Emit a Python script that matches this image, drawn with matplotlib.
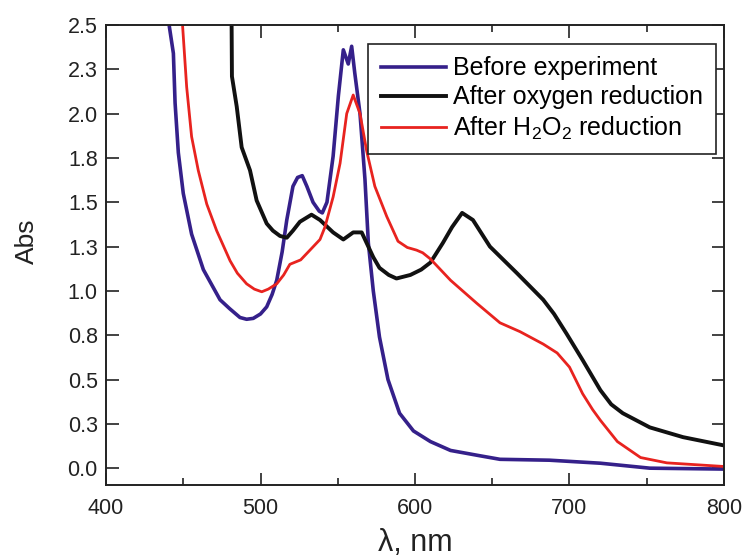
import numpy as np
import matplotlib.pyplot as plt
from matplotlib.ticker import MultipleLocator

plt.rcParams['font.family'] = ['Liberation Sans', 'DejaVu Sans']
plt.rcParams['mathtext.fontset'] = 'custom'
plt.rcParams['mathtext.rm'] = 'Liberation Sans'

# datos (lambda en nm, absorbancia)
wl_before = [440, 441, 443.6, 444.7, 446.8, 450, 455.4, 463, 473.8, 480, 486.7, 491, 495.3,
             500, 504, 507.5, 510.5, 514, 517, 521, 524, 527, 530, 534, 538, 540, 543, 547,
             550.4, 553.6, 556.8, 559, 561, 564.4, 567.6, 569.8, 573, 577, 582.5, 590, 599,
             610, 623, 642, 655, 687, 720, 752, 799]
abs_before = [2.62, 2.49, 2.34, 2.06, 1.78, 1.55, 1.32, 1.12, 0.95, 0.90, 0.85, 0.84, 0.845,
              0.87, 0.91, 0.98, 1.06, 1.22, 1.40, 1.59, 1.64, 1.65, 1.59, 1.50, 1.45, 1.44,
              1.50, 1.76, 2.10, 2.36, 2.28, 2.38, 2.23, 2.00, 1.63, 1.27, 1.00, 0.74, 0.50,
              0.31, 0.21, 0.15, 0.10, 0.07, 0.05, 0.045, 0.028, 0.0, -0.005]

wl_oxygen = [481, 481.3, 481.5, 484.6, 487.8, 493.2, 497.5, 504, 508, 512.6, 517, 521, 525.5,
             533, 538.5, 547, 553.6, 560, 565.5, 568.7, 573, 577, 583, 588, 597, 604, 610,
             618, 624, 630.5, 637.5, 648.5, 666, 683, 690, 698, 708.5, 720, 727, 734.5, 752,
             773.5, 799]
abs_oxygen = [2.62, 2.49, 2.21, 2.04, 1.81, 1.68, 1.51, 1.38, 1.34, 1.31, 1.30, 1.34, 1.39,
              1.43, 1.40, 1.33, 1.29, 1.33, 1.33, 1.27, 1.19, 1.13, 1.09, 1.07, 1.09, 1.12,
              1.16, 1.27, 1.36, 1.44, 1.40, 1.25, 1.10, 0.95, 0.87, 0.76, 0.61, 0.44, 0.36,
              0.31, 0.23, 0.175, 0.13]

wl_h2o2 = [449, 449.6, 452.2, 455.4, 459.7, 465.2, 471.6, 480.3, 485, 491, 496, 500.8, 505,
           510.5, 515, 519, 526, 532, 538.5, 541.7, 547, 551.5, 555.8, 560, 564.4, 568.7, 574,
           581.7, 589, 595, 601, 605, 610, 623, 640, 655, 668, 683, 692, 700, 708.5, 715, 720,
           731, 746, 763, 799]
abs_h2o2 = [2.62, 2.49, 2.15, 1.87, 1.68, 1.49, 1.34, 1.17, 1.10, 1.04, 1.01, 0.995, 1.01,
            1.04, 1.09, 1.15, 1.175, 1.23, 1.29, 1.36, 1.53, 1.72, 2.00, 2.105, 2.00, 1.79,
            1.59, 1.42, 1.28, 1.245, 1.23, 1.215, 1.18, 1.06, 0.93, 0.82, 0.77, 0.70, 0.65,
            0.57, 0.42, 0.33, 0.27, 0.15, 0.06, 0.03, 0.01]

yticks = [0.0, 0.25, 0.5, 0.75, 1.0, 1.25, 1.5, 1.75, 2.0, 2.25, 2.5]
ytick_labels = ['0.0', '0.3', '0.5', '0.8', '1.0', '1.3', '1.5', '1.8', '2.0', '2.3', '2.5']

fig = plt.figure(figsize=(7.43, 5.58), dpi=100)
ax = fig.add_axes([0.1427, 0.1308, 0.8317, 0.8244])

ax.plot(wl_before, abs_before, color='#35208a', lw=2.6, label='Before experiment')
ax.plot(wl_oxygen, abs_oxygen, color='#111111', lw=2.8, label='After oxygen reduction')
ax.plot(wl_h2o2, abs_h2o2, color='#e8231f', lw=2.0, label='After H$_2$O$_2$ reduction')

ax.set_xlim(400, 800)
ax.set_ylim(-0.095, 2.5)
ax.set_xticks([400, 500, 600, 700, 800])
ax.xaxis.set_minor_locator(MultipleLocator(50))
ax.set_yticks(yticks)
ax.set_yticklabels(ytick_labels)

ax.tick_params(which='both', direction='in', top=True, right=True, labelsize=15.5,
               colors='#222222', width=1.2)
ax.tick_params(which='major', length=9)
ax.tick_params(which='minor', length=5)
ax.tick_params(axis='x', pad=9)
ax.tick_params(axis='y', pad=6)
for s in ax.spines.values():
    s.set_linewidth(1.4)
    s.set_color('#222222')

ax.set_xlabel('λ, nm', fontsize=22, color='#222222', labelpad=7)
ax.set_ylabel('Abs', fontsize=19, color='#222222')
ax.yaxis.set_label_coords(-0.108, 0.53)

leg = ax.legend(loc='upper right', bbox_to_anchor=(0.987, 0.959), borderaxespad=0,
                fancybox=False, edgecolor='#222222', framealpha=1, fontsize=18,
                handlelength=2.6, handletextpad=0.3, labelspacing=0.2,
                borderpad=0.5)
leg.get_frame().set_linewidth(1.2)

fig.savefig('out.png', dpi=100)
